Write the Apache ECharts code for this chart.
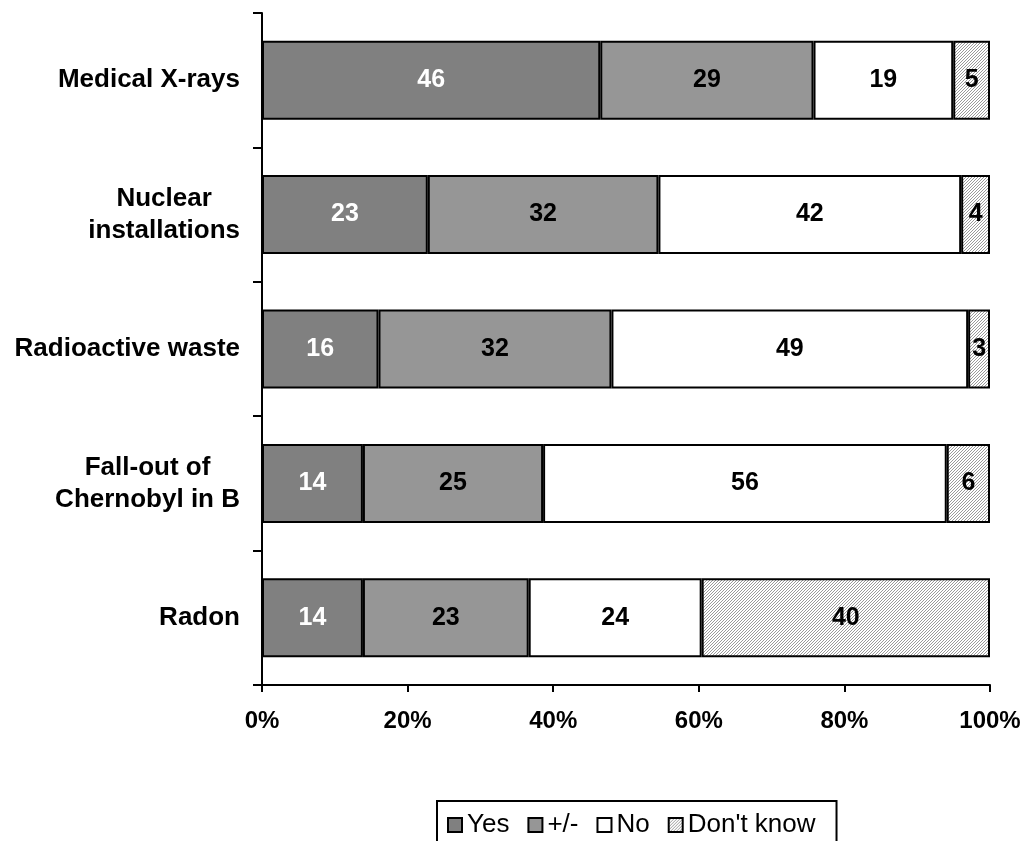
<!DOCTYPE html>
<html>
<head>
<meta charset="utf-8">
<script src="https://cdn.jsdelivr.net/npm/echarts@6/dist/echarts.min.js"></script>
<style>
  html, body { margin: 0; padding: 0; background: #fff; }
  #chart { width: 1030px; height: 841px; }
</style>
</head>
<body>
<div id="chart"></div>
<script>
// Survey answers per radiation source (raw counts as percentages, rows may not sum exactly to 100)
const categories = ['Medical X-rays', 'Nuclear\ninstallations', 'Radioactive waste', 'Fall-out of\nChernobyl in B', 'Radon'];
const seriesNames = ['Yes', '+/-', 'No', "Don't know"];
const yesValues = [46, 23, 16, 14, 14];
const mixedValues = [29, 32, 32, 25, 23];
const noValues = [19, 42, 49, 56, 24];
const dontKnowValues = [5, 4, 3, 6, 40];
const xTickLabels = ['0%', '20%', '40%', '60%', '80%', '100%'];

const FONT = "'Liberation Sans', Arial, Helvetica, sans-serif";

// Fine diagonal hatch used for "Don't know"
function hatchPattern() {
  const c = document.createElement('canvas');
  c.width = 3; c.height = 3;
  const ctx = c.getContext('2d');
  ctx.fillStyle = '#ffffff';
  ctx.fillRect(0, 0, 3, 3);
  ctx.fillStyle = '#9a9a9a';
  ctx.fillRect(2, 0, 1, 1);
  ctx.fillRect(1, 1, 1, 1);
  ctx.fillRect(0, 2, 1, 1);
  return c;
}

const rawSets = [yesValues, mixedValues, noValues, dontKnowValues];
const totals = categories.map((_, i) => rawSets.reduce((s, arr) => s + arr[i], 0));
const fills = ['#808080', '#969696', '#ffffff', { image: hatchPattern(), repeat: 'repeat' }];
const labelColors = ['#ffffff', '#000000', '#000000', '#000000'];

// Each bar is scaled to 100% of its row; the label keeps the stated value
const series = rawSets.map((arr, k) => ({
  name: seriesNames[k],
  type: 'bar',
  stack: 'total',
  barWidth: 79,
  data: arr.map((v, i) => ({ value: v / totals[i] * 100, raw: v })),
  itemStyle: { color: fills[k], borderColor: '#000', borderWidth: 2 },
  emphasis: { disabled: true },
  label: {
    show: true,
    position: 'inside',
    formatter: p => String(p.data.raw),
    color: labelColors[k],
    fontFamily: FONT,
    fontWeight: 'bold',
    fontSize: 25
  }
}));

const chart = echarts.init(document.getElementById('chart'), null, { renderer: 'canvas' });
chart.setOption({
  backgroundColor: '#ffffff',
  animation: false,
  grid: { left: 262, right: 40, top: 13, bottom: 156, containLabel: false },
  xAxis: {
    type: 'value',
    min: 0,
    max: 100,
    interval: 20,
    axisLine: { show: true, lineStyle: { color: '#000', width: 2 } },
    axisTick: { show: true, length: 7, lineStyle: { color: '#000', width: 2 } },
    splitLine: { show: false },
    axisLabel: {
      margin: 24,
      color: '#000',
      fontFamily: FONT,
      fontWeight: 'bold',
      fontSize: 24,
      formatter: (v) => xTickLabels[Math.round(v / 20)]
    }
  },
  yAxis: {
    type: 'category',
    data: categories,
    inverse: true,
    axisLine: { show: true, lineStyle: { color: '#000', width: 2 } },
    axisTick: { show: true, length: 9, lineStyle: { color: '#000', width: 2 } },
    splitLine: { show: false },
    axisLabel: {
      margin: 22,
      formatter: (v) => v.split('\n').map(s => '{c|' + s + '}').join('\n'),
      rich: {
        c: {
          align: 'center',
          color: '#000',
          fontFamily: FONT,
          fontWeight: 'bold',
          fontSize: 26,
          lineHeight: 32
        }
      }
    }
  },
  legend: {
    data: seriesNames,
    left: 437,
    top: 801,
    orient: 'horizontal',
    selectedMode: false,
    icon: 'rect',
    itemWidth: 14,
    itemHeight: 14,
    itemGap: 18,
    padding: [11, 21, 10, 10],
    borderColor: '#000',
    borderWidth: 2,
    borderRadius: 0,
    backgroundColor: '#fff',
    textStyle: { color: '#000', fontFamily: FONT, fontSize: 26 }
  },
  series: series
});
</script>
</body>
</html>
